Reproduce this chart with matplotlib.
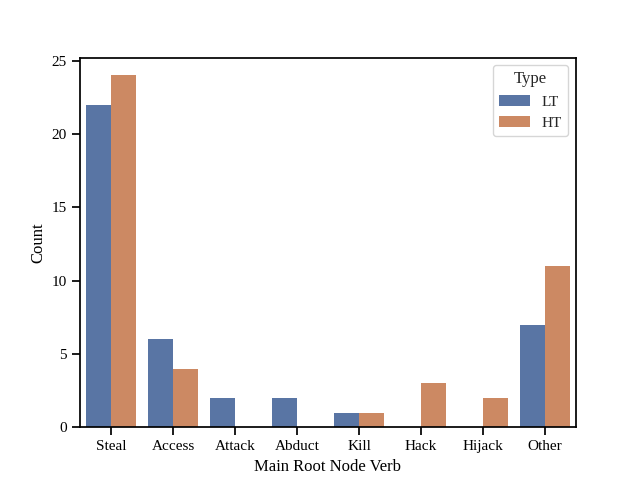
import numpy as np
import matplotlib
matplotlib.use('Agg')
import matplotlib.pyplot as plt
import seaborn as sns

verbs = ['Steal', 'Access', 'Attack', 'Abduct', 'Kill', 'Hack', 'Hijack', 'Other']
lt_counts = [22, 6, 2, 2, 1, 0, 0, 7]
ht_counts = [24, 4, 0, 0, 1, 3, 2, 11]
types = ['LT', 'HT']

sns.set_theme(style='ticks', context='notebook')
plt.rcParams['font.family'] = ['Liberation Serif', 'DejaVu Serif']

pal = sns.color_palette('deep', 2, desat=0.75)

fig, ax = plt.subplots(figsize=(6.4, 4.8), dpi=100)
x = np.arange(len(verbs))
w = 0.4
ax.bar(x - w / 2, lt_counts, w, color=pal[0], label=types[0], edgecolor='none')
ax.bar(x + w / 2, ht_counts, w, color=pal[1], label=types[1], edgecolor='none')

ax.set_xticks(x)
ax.set_xticklabels(verbs)
ax.set_xlim(-0.5, len(verbs) - 0.5)
ax.set_ylim(0, 25.2)
ax.set_xlabel('Main Root Node Verb', color='black')
ax.set_ylabel('Count', color='black')
for s in ax.spines.values():
    s.set_color('black')
ax.tick_params(colors='black')
ax.legend(title='Type', loc='upper right', frameon=True)

fig.savefig('out.png', dpi=100)
